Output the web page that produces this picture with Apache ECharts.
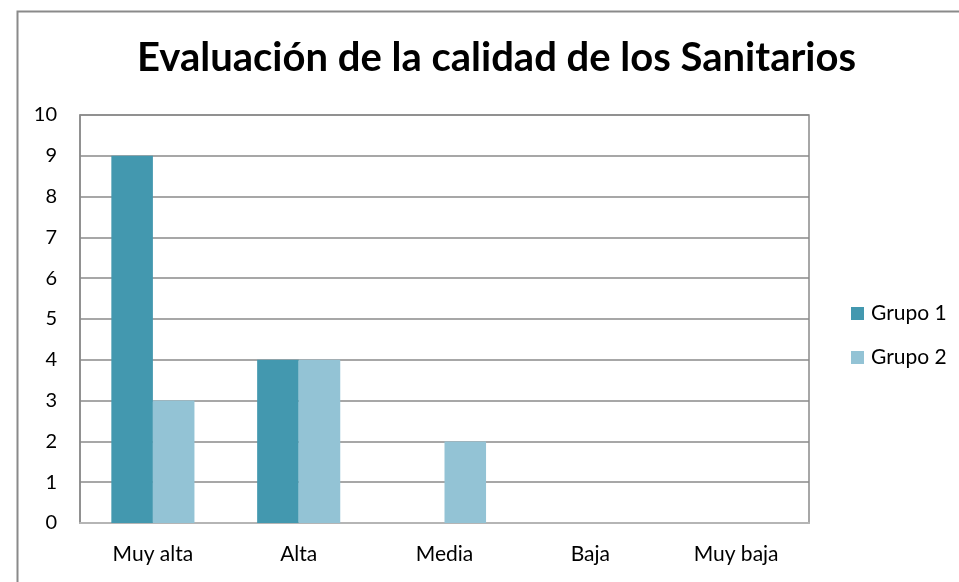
<!DOCTYPE html>
<html><head><meta charset="utf-8">
<script src="https://cdn.jsdelivr.net/npm/echarts@6/dist/echarts.min.js"></script>
<style>html,body{margin:0;padding:0;background:#fff}#c{width:959px;height:582px}</style>
</head><body><div id="c"></div>
<script>
const categories = ['Muy alta', 'Alta', 'Media', 'Baja', 'Muy baja'];
const grupo1 = [9, 4, 0, 0, 0];
const grupo2 = [3, 4, 2, 0, 0];
const seriesNames = ['Grupo 1', 'Grupo 2'];
const titleText = 'Evaluación de la calidad de los Sanitarios';

const FONT = 'Lato, sans-serif';
const chart = echarts.init(document.getElementById('c'), null, {renderer: 'canvas'});
chart.setOption({
  animation: false,
  backgroundColor: '#fff',
  color: ['#4398AF', '#93C3D5'],
  title: {
    text: titleText, left: 137, top: 38,
    textStyle: {fontFamily: FONT, fontWeight: 'bold', fontSize: 40, color: '#000'},
    padding: 0, itemGap: 0
  },
  graphic: [{
    type: 'rect', left: 15, top: 9, silent: true,
    shape: {x: 0, y: 0, width: 1000, height: 700},
    style: {fill: 'none', stroke: '#8a8a8a', lineWidth: 2}
  }],
  legend: {
    orient: 'vertical', left: 851, top: 303, padding: 0,
    itemWidth: 13, itemHeight: 13, itemGap: 23, icon: 'rect',
    textStyle: {fontFamily: FONT, fontSize: 21, color: '#000', padding: [0, 0, 0, 2]},
    data: seriesNames
  },
  grid: {left: 80, right: 150, top: 115, bottom: 59, show: true, borderColor: '#8a8a8a', borderWidth: 1.5, containLabel: false},
  xAxis: {
    type: 'category', data: categories,
    axisLine: {show: true, lineStyle: {color: '#b5b5b5', width: 2}},
    axisTick: {show: false},
    axisLabel: {fontFamily: FONT, fontSize: 21, color: '#000', margin: 21}
  },
  yAxis: {
    type: 'value', min: 0, max: 10, interval: 1,
    axisLine: {show: true, lineStyle: {color: '#8a8a8a', width: 1.5}},
    axisTick: {show: false},
    splitLine: {lineStyle: {color: '#8a8a8a', width: 1.5}},
    axisLabel: {fontFamily: FONT, fontSize: 20, color: '#000', margin: 23}
  },
  series: [
    {name: seriesNames[0], type: 'bar', data: grupo1, barGap: '0%', barCategoryGap: '43%'},
    {name: seriesNames[1], type: 'bar', data: grupo2, barGap: '0%', barCategoryGap: '43%'}
  ]
});
</script></body></html>
